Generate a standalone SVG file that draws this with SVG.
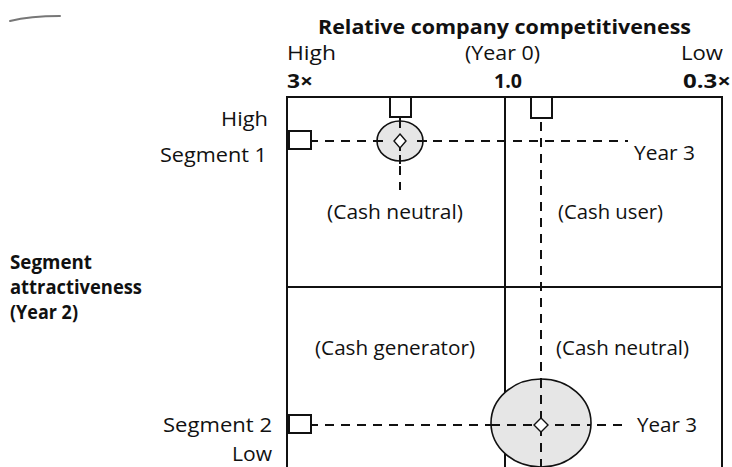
<svg xmlns="http://www.w3.org/2000/svg" width="732" height="467" viewBox="0 0 732 467">
<style>
text{font-family:"Open Sans","Liberation Sans",sans-serif;font-size:20px;fill:#111}
.b{font-weight:bold}
.frame{fill:none;stroke:#111;stroke-width:2}
.sq{fill:#fff;stroke:#111;stroke-width:2}
.dash{fill:none;stroke:#111;stroke-width:2;stroke-dasharray:9 7}
.tick{stroke:#111;stroke-width:2}
.bub{fill:#e6e6e6;stroke:#111;stroke-width:1.6}
.dia{fill:#fff;stroke:#111;stroke-width:1.4}
</style>
<rect width="732" height="467" fill="#fff"/>
<path d="M10 21 Q30 16 60 16" stroke="#777" stroke-width="2" fill="none" stroke-linecap="round"/>

<g id="axis-labels">
<text class="b" x="318" y="34" textLength="373" lengthAdjust="spacingAndGlyphs">Relative company competitiveness</text>
<text x="287" y="60" textLength="49" lengthAdjust="spacingAndGlyphs">High</text>
<text x="465" y="60" textLength="75" lengthAdjust="spacingAndGlyphs">(Year 0)</text>
<text x="681" y="60" textLength="42" lengthAdjust="spacingAndGlyphs">Low</text>
<text class="b" x="287" y="88" textLength="26" lengthAdjust="spacingAndGlyphs">3×</text>
<text class="b" x="494" y="88" textLength="28" lengthAdjust="spacingAndGlyphs">1.0</text>
<text class="b" x="683" y="88" textLength="48" lengthAdjust="spacingAndGlyphs">0.3×</text>
<text x="221" y="126" textLength="47" lengthAdjust="spacingAndGlyphs">High</text>
<text x="160" y="162" textLength="107" lengthAdjust="spacingAndGlyphs">Segment 1</text>
<text x="163" y="432" textLength="109" lengthAdjust="spacingAndGlyphs">Segment 2</text>
<text x="232" y="461" textLength="40" lengthAdjust="spacingAndGlyphs">Low</text>
<text class="b" x="10" y="269" font-size="17" textLength="82" lengthAdjust="spacingAndGlyphs">Segment</text>
<text class="b" x="10" y="294" font-size="17" textLength="132" lengthAdjust="spacingAndGlyphs">attractiveness</text>
<text class="b" x="10" y="319" font-size="17" textLength="68" lengthAdjust="spacingAndGlyphs">(Year 2)</text>
</g>

<g id="grid">
<rect class="frame" x="287" y="97" width="435" height="400"/>
<line class="tick" x1="505" y1="97" x2="505" y2="467"/>
<line class="tick" x1="287" y1="287" x2="722" y2="287"/>
</g>

<g id="quadrant-labels">
<text x="327" y="219" textLength="136" lengthAdjust="spacingAndGlyphs">(Cash neutral)</text>
<text x="558" y="219" textLength="105" lengthAdjust="spacingAndGlyphs">(Cash user)</text>
<text x="315" y="355" textLength="160" lengthAdjust="spacingAndGlyphs">(Cash generator)</text>
<text x="556" y="355" textLength="133" lengthAdjust="spacingAndGlyphs">(Cash neutral)</text>
</g>

<g id="connectors">
<line class="tick" x1="311" y1="141" x2="318" y2="141"/>
<line class="dash" x1="325" y1="141" x2="372" y2="141"/>
<line class="dash" x1="433" y1="141" x2="628" y2="141"/>
<line class="dash" x1="400" y1="166" x2="400" y2="190"/>
<line class="dash" x1="541" y1="122" x2="541" y2="467"/>
<line class="tick" x1="311" y1="425" x2="318" y2="425"/>
<line class="dash" x1="325" y1="425" x2="628" y2="425"/>
</g>

<g id="segment1">
<rect class="sq" x="289" y="131" width="22" height="18"/>
<rect class="sq" x="390" y="97" width="21" height="20"/>
<ellipse class="bub" cx="400" cy="141" rx="23" ry="20"/>
<line class="tick" x1="373" y1="141" x2="383" y2="141"/>
<line class="tick" x1="417" y1="141" x2="427" y2="141"/>
<line class="tick" x1="400" y1="118" x2="400" y2="128"/>
<line class="tick" x1="400" y1="147" x2="400" y2="151"/>
<line class="tick" x1="400" y1="155" x2="400" y2="164"/>
<path class="dia" d="M400 134 L406 141 L400 148 L394 141 Z"/>
<rect class="sq" x="531" y="97" width="21" height="21"/>
<text x="634" y="160" textLength="61" lengthAdjust="spacingAndGlyphs">Year 3</text>
</g>

<g id="segment2">
<rect class="sq" x="289" y="415" width="22" height="18"/>
<ellipse class="bub" cx="541" cy="423" rx="50" ry="44"/>
<line class="dash" x1="491" y1="425" x2="591" y2="425"/>
<line class="dash" x1="541" y1="379" x2="541" y2="467"/>
<path class="dia" d="M541 418 L548 425 L541 432 L534 425 Z"/>
<text x="637" y="432" textLength="60" lengthAdjust="spacingAndGlyphs">Year 3</text>
</g>
</svg>
